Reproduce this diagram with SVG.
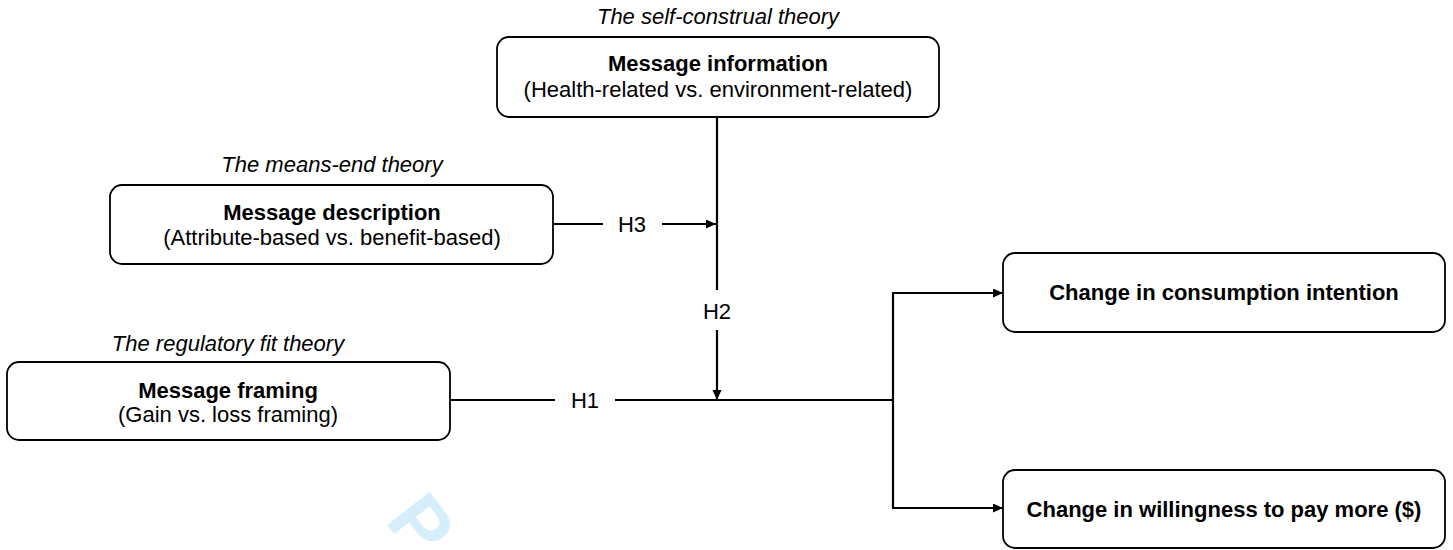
<svg xmlns="http://www.w3.org/2000/svg" width="1453" height="550" viewBox="0 0 1453 550">
  <style>
    .box { fill: #ffffff; stroke: #000000; stroke-width: 1.8; }
    .title { font-family: "Liberation Sans", Arial, sans-serif; font-size: 22px; font-style: italic; text-anchor: middle; fill: #000; }
    .bold { font-family: "Liberation Sans", Arial, sans-serif; font-size: 22px; font-weight: bold; text-anchor: middle; fill: #000; }
    .reg { font-family: "Liberation Sans", Arial, sans-serif; font-size: 22px; text-anchor: middle; fill: #000; }
    .line { fill: none; stroke: #000000; stroke-width: 2.2; }
    .wm { font-family: "Liberation Sans", Arial, sans-serif; font-size: 78px; font-weight: bold; fill: #d6eefa; }
  </style>
  <defs>
    <marker id="arrow" markerUnits="userSpaceOnUse" markerWidth="11" markerHeight="10" refX="10" refY="4.5" orient="auto">
      <path d="M0,0 L10,4.5 L0,9 z" fill="#000000"/>
    </marker>
  </defs>

  <text class="wm" transform="translate(384,521) rotate(52)">P</text>

  <g id="connectors">
    <path class="line" d="M553,224 H603"/>
    <path class="line" d="M662,224 H716" marker-end="url(#arrow)"/>
    <path class="line" d="M717,117 V290"/>
    <path class="line" d="M717,330 V400" marker-end="url(#arrow)"/>
    <path class="line" d="M450,400 H555"/>
    <path class="line" d="M615,400 H893"/>
    <path class="line" d="M893,400 V293 H1003" marker-end="url(#arrow)"/>
    <path class="line" d="M893,400 V508 H1003" marker-end="url(#arrow)"/>
    <text class="reg" x="632" y="232">H3</text>
    <text class="reg" x="717" y="319">H2</text>
    <text class="reg" x="585" y="408">H1</text>
  </g>

  <g id="node-information">
    <text class="title" x="718" y="24">The self-construal theory</text>
    <rect class="box" x="497" y="37" width="442" height="80" rx="12"/>
    <text class="bold" x="718" y="71">Message information</text>
    <text class="reg" x="718" y="97">(Health-related vs. environment-related)</text>
  </g>

  <g id="node-description">
    <text class="title" x="332" y="172">The means-end theory</text>
    <rect class="box" x="110" y="185" width="443" height="79" rx="12"/>
    <text class="bold" x="332" y="220">Message description</text>
    <text class="reg" x="332" y="245">(Attribute-based vs. benefit-based)</text>
  </g>

  <g id="node-framing">
    <text class="title" x="228" y="351">The regulatory fit theory</text>
    <rect class="box" x="7" y="362" width="443" height="78" rx="12"/>
    <text class="bold" x="228" y="398">Message framing</text>
    <text class="reg" x="228" y="422">(Gain vs. loss framing)</text>
  </g>

  <g id="node-consumption">
    <rect class="box" x="1003" y="253" width="442" height="79" rx="12"/>
    <text class="bold" x="1224" y="300">Change in consumption intention</text>
  </g>

  <g id="node-wtp">
    <rect class="box" x="1003" y="470" width="442" height="78" rx="12"/>
    <text class="bold" x="1224" y="517">Change in willingness to pay more ($)</text>
  </g>
</svg>
